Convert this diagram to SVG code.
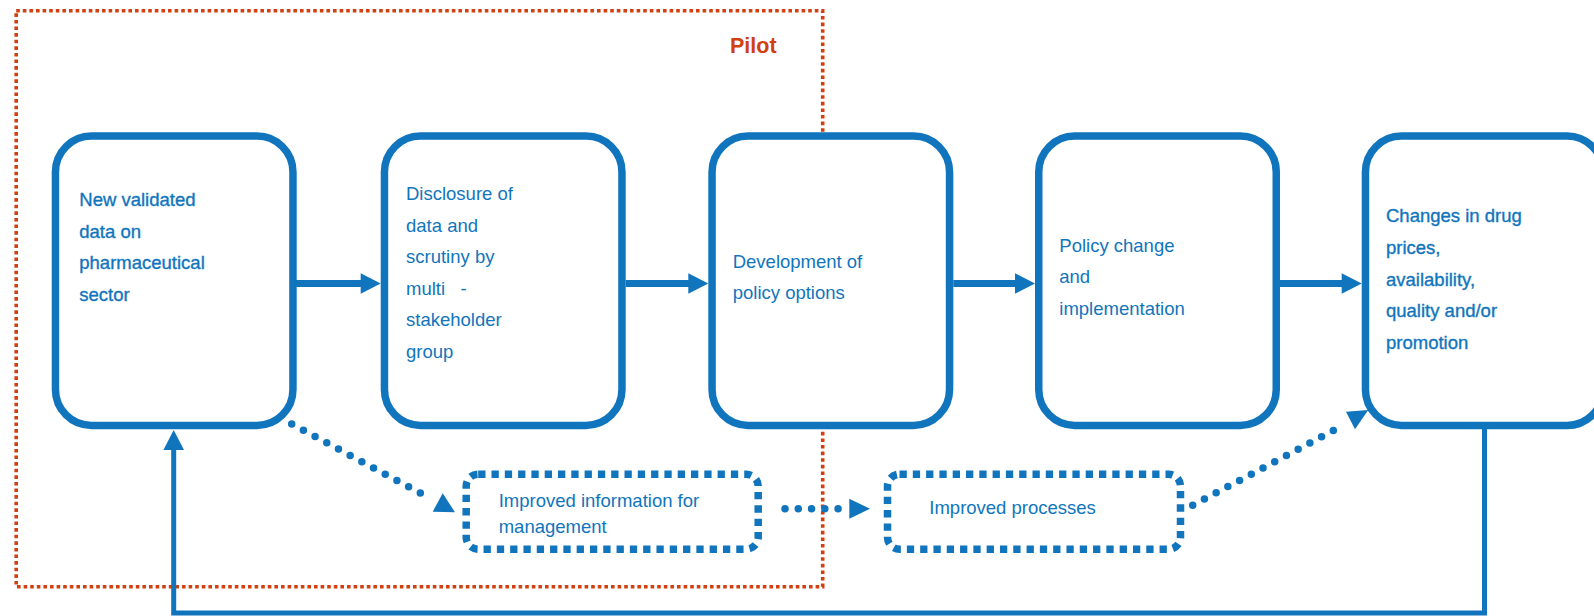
<svg xmlns="http://www.w3.org/2000/svg" width="1594" height="616" viewBox="0 0 1594 616">
<style>
  .box { fill: #ffffff; stroke: #1175bd; stroke-width: 7.5; }
  .dbox { fill: none; stroke: #1175bd; stroke-width: 7.5; stroke-dasharray: 7.3 6; }
  .pilot { fill: none; stroke: #d2400f; stroke-width: 3.6; stroke-dasharray: 3.6 3; }
  .t { font-family: "Liberation Sans", Arial, sans-serif; font-size: 18.5px; fill: #1175bd; }
  .tb { stroke: #1175bd; stroke-width: 0.35; }
  .ptitle { font-family: "Liberation Sans", Arial, sans-serif; font-size: 21.5px; font-weight: bold; fill: #d2400f; }
  .shaft { fill: none; stroke: #1175bd; stroke-width: 7; }
  .fb { fill: none; stroke: #1175bd; stroke-width: 5; }
  .dots { fill: none; stroke: #1175bd; stroke-width: 7.5; stroke-linecap: round; stroke-dasharray: 0 13.27; }
  .head { fill: #1175bd; }
</style>

<g id="pilot">
  <rect class="pilot" x="16.2" y="10.7" width="806.5" height="576"/>
  <text class="ptitle" x="730" y="53.3">Pilot</text>
</g>

<g id="node-new-data">
  <rect class="box" x="55.45" y="136" width="237.5" height="289.5" rx="36"/>
  <text class="t tb" x="79.3" y="206">New validated</text>
  <text class="t tb" x="79.3" y="238">data on</text>
  <text class="t tb" x="79.3" y="269">pharmaceutical</text>
  <text class="t tb" x="79.3" y="300.7">sector</text>
</g>

<g id="node-disclosure">
  <rect class="box" x="384.45" y="136" width="237.5" height="289.5" rx="36"/>
  <text class="t" x="406" y="200">Disclosure of</text>
  <text class="t" x="406" y="232">data and</text>
  <text class="t" x="406" y="263">scrutiny by</text>
  <text class="t" x="406" y="295" xml:space="preserve" style="white-space:pre">multi   -</text>
  <text class="t" x="406" y="326">stakeholder</text>
  <text class="t" x="406" y="358">group</text>
</g>

<g id="node-policy-options">
  <rect class="box" x="712.05" y="136" width="237.5" height="289.5" rx="36"/>
  <text class="t" x="732.7" y="268.3">Development of</text>
  <text class="t" x="732.7" y="299.3">policy options</text>
</g>

<g id="node-policy-change">
  <rect class="box" x="1038.75" y="136" width="237.5" height="289.5" rx="36"/>
  <text class="t" x="1059.3" y="251.5">Policy change</text>
  <text class="t" x="1059.3" y="283.3">and</text>
  <text class="t" x="1059.3" y="315">implementation</text>
</g>

<g id="node-changes">
  <rect class="box" x="1365.45" y="136" width="237.5" height="289.5" rx="36"/>
  <text class="t tb" x="1386" y="221.7">Changes in drug</text>
  <text class="t tb" x="1386" y="253.5">prices,</text>
  <text class="t tb" x="1386" y="285.6">availability,</text>
  <text class="t tb" x="1386" y="316.8">quality and/or</text>
  <text class="t tb" x="1386" y="349">promotion</text>
</g>

<g id="node-info-management">
  <rect class="dbox" x="466.2" y="474.2" width="292" height="75" rx="12"/>
  <text class="t" x="498.7" y="506.7">Improved information for</text>
  <text class="t" x="498.7" y="533.3">management</text>
</g>

<g id="node-processes">
  <rect class="dbox" x="887.5" y="474.2" width="293" height="75" rx="12"/>
  <text class="t" x="929.3" y="514">Improved processes</text>
</g>

<g id="connectors">
  <line class="shaft" x1="296" y1="283.5" x2="361.5" y2="283.5"/>
  <polygon class="head" points="360.7,273.2 380.7,283.5 360.7,293.8"/>
  <line class="shaft" x1="625.7" y1="283.5" x2="689" y2="283.5"/>
  <polygon class="head" points="688.3,273.2 708.3,283.5 688.3,293.8"/>
  <line class="shaft" x1="953.3" y1="283.5" x2="1016" y2="283.5"/>
  <polygon class="head" points="1015,273.2 1035,283.5 1015,293.8"/>
  <line class="shaft" x1="1280" y1="283.5" x2="1342.5" y2="283.5"/>
  <polygon class="head" points="1341.7,273.2 1361.7,283.5 1341.7,293.8"/>

  <path class="fb" d="M1484.5,429 V613 H173.7 V449"/>
  <polygon class="head" points="173.7,430 163.4,450 184,450"/>

  <line class="dots" x1="291.7" y1="424" x2="432" y2="499.3"/>
  <polygon class="head" points="432.7,511.7 442.7,493.3 455,512.3"/>

  <line class="dots" x1="785" y1="508.7" x2="838.3" y2="508.7"/>
  <polygon class="head" points="849.3,498.7 870,508.7 849.3,518.7"/>

  <line class="dots" x1="1192.7" y1="505.3" x2="1344.3" y2="424.7"/>
  <polygon class="head" points="1346,411.7 1368.3,410 1355,429.3"/>
</g>
</svg>
